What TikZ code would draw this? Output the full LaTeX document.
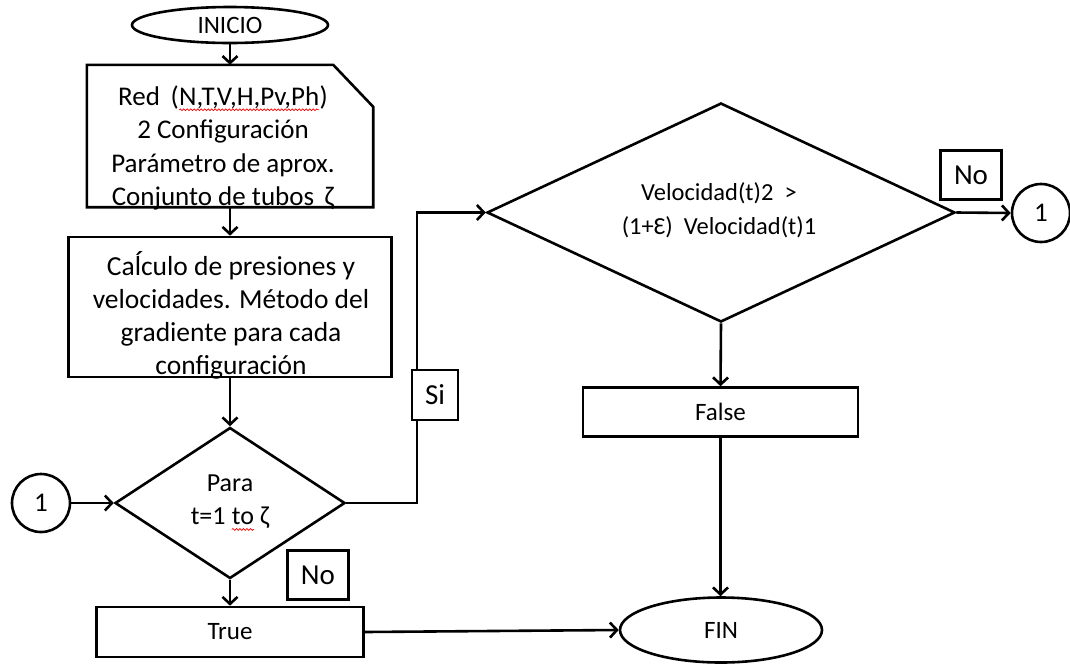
\documentclass[tikz,border=0pt]{standalone}
\usepackage{fontspec}
\setmainfont{Carlito}
\usetikzlibrary{shapes.geometric,arrows.meta,decorations.pathmorphing}
% red wavy underline, as a spell checker marks a word
\newcommand\spellwave[1]{\tikz[baseline=(sw.base)]{%
  \node[inner sep=0pt,outer sep=0pt,draw=none] (sw) {#1};
  \draw[red,line width=0.7pt,decorate,decoration={snake,amplitude=0.9pt,segment length=3.5pt}]
    ([yshift=-4.5pt]sw.base west) -- ([yshift=-4.5pt]sw.base east);}}
\begin{document}
\begin{tikzpicture}[x=1pt,y=-1pt,
  lw/.style={line width=2.6pt},
  base/.style={lw, draw, inner sep=0pt, align=center, font=\fontsize{25}{33}\selectfont},
  txt/.style={inner sep=0pt, align=center, font=\fontsize{27.5}{33}\selectfont},
  cardtxt/.style={inner sep=0pt, align=center, font=\fontsize{27}{33.5}\selectfont},
  midtxt/.style={inner sep=0pt, align=center, font=\fontsize{26}{33}\selectfont},
  smalltxt/.style={inner sep=0pt, align=center, font=\fontsize{24.5}{34.5}\selectfont},
  procbox/.style={base, rectangle, fill=white},
  term/.style={base, ellipse},
  decision/.style={base, diamond},
  conn/.style={base, circle, minimum size=58pt, font=\fontsize{27}{30}\selectfont},
  tag/.style={base, rectangle, fill=white, font=\fontsize{29}{30}\selectfont},
  arr/.style={lw, -{Straight Barb[length=7pt,width=15pt,line width=2.6pt]}}]
\useasboundingbox (0,0) rectangle (1070,665);

% left column
\node[term, minimum width=196pt, minimum height=36pt] (ini) at (230,25) {INICIO};

\node[minimum width=286pt, minimum height=142pt, inner sep=0pt] (red) at (230,136) {};
\draw[lw] (red.north west) -- ([xshift=-40pt]red.north east)
  -- ([yshift=-42pt]red.north east) -- (red.south east)
  -- (red.south west) -- cycle;
\node[cardtxt] (redtext) at (223,148) {Red\ \,(\spellwave{N,T,V,H,Pv,Ph})\\2 Configuración\\Parámetro de aprox.\\Conjunto de tubos\ \,ζ};

\node[procbox, minimum width=323pt, minimum height=140pt] (calc) at (230,307) {};
\node[txt] (calctext) at (231,315) {Caĺculo de presiones y\\velocidades. Método del\\gradiente para cada\\configuración};

\node[decision, minimum width=230pt, minimum height=151pt] (para) at (230,503) {};
\node[midtxt] (paratext) at (230,503) {Para\\t=1 \spellwave{to} ζ};

\node[conn] (c1) at (41,503) {1};

\node[procbox, minimum width=267pt, minimum height=50pt] (true) at (230,632) {True};

% right column
\node[decision, minimum width=468pt, minimum height=219pt] (vel) at (721,212.5) {};
\node[smalltxt] (veltext) at (719,210) {Velocidad(t)2\ \ >\\(1+Ɛ)\ \ Velocidad(t)1};

\node[conn] (c2) at (1041,213) {1};

\node[procbox, minimum width=275pt, minimum height=49pt] (false) at (720.5,412) {False};

\node[term, minimum width=202pt, minimum height=65pt] (fin) at (721,630) {FIN};

% connectors
\coordinate (j) at (417,503);
\draw[arr] (ini.south) -- (red.north);
\draw[arr] (red.south) -- (calc.north);
\draw[arr] (calc.south) -- (para.north);
\draw[arr] (c1.east) -- (para.west);
\draw[arr] (para.south) -- (true.north);
\draw[arr] (para.east) -- (j) |- (vel.west);
\draw[arr] (vel.east) -- (c2.west);
\draw[arr] (vel.south) -- (false.north);
\draw[arr] (false.south) -- (false.south |- fin.north);
\draw[arr] (true.east) -- (fin.west);

% branch tags
\node[tag, minimum width=46pt, minimum height=50pt] (si) at (435,395) {Si};
\node[tag, minimum width=61pt, minimum height=49pt] (noright) at (971,175) {No};
\node[tag, minimum width=61pt, minimum height=49pt] (noleft) at (318,575) {No};
\end{tikzpicture}
\end{document}
